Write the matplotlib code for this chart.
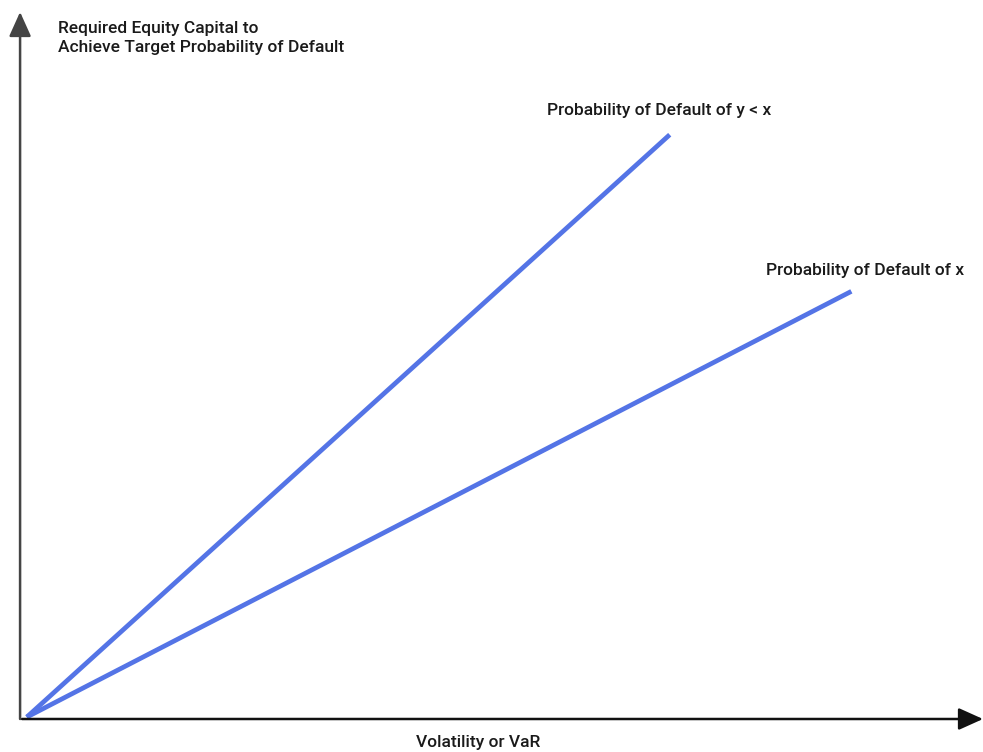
import matplotlib
matplotlib.use("Agg")
import matplotlib.pyplot as plt

# Data (abstract units; both curves start at the origin)
vol = [0.05, 6.74]
capital_low_pd = [0.02, 6.08]     # Probability of Default of y < x
vol2 = [0.05, 8.63]
capital_pd_x = [0.02, 4.45]       # Probability of Default of x
labels = ["Probability of Default of y < x", "Probability of Default of x"]
ylabel_text = "Required Equity Capital to\nAchieve Target Probability of Default"
xlabel_text = "Volatility or VaR"

FONT = ["Roboto", "DejaVu Sans"]
plt.rcParams["font.family"] = FONT

fig = plt.figure(figsize=(9.83, 7.52), dpi=100)
W, H = 983, 752
ox, oy = 22, 719
ax = fig.add_axes([ox / W, (H - oy) / H, (W - ox) / W, (oy - 12) / H])
ax.set_xlim(0, (W - ox) / 96.1)
ax.set_ylim(0, (oy - 12) / 96.1)
ax.axis("off")

blue = "#5474e6"
ax.plot(vol, capital_low_pd, color=blue, lw=3.4, solid_capstyle="butt")
ax.plot(vol2, capital_pd_x, color=blue, lw=3.4, solid_capstyle="butt")

# axes with arrows
ax.annotate("", xy=(1.0, 0.0), xytext=(0.0, 0.0), xycoords="axes fraction",
            arrowprops=dict(arrowstyle="-|>,head_length=1.0,head_width=0.45",
                            color="#111111", lw=1.8, shrinkA=0, shrinkB=0,
                            mutation_scale=15), annotation_clip=False)
ax.annotate("", xy=(-0.002, 1.0), xytext=(-0.002, 0.0), xycoords="axes fraction",
            arrowprops=dict(arrowstyle="-|>,head_length=1.0,head_width=0.45",
                            color="#444444", lw=1.8, shrinkA=0, shrinkB=0,
                            mutation_scale=15), annotation_clip=False)

fs = 12.5
tc = "#1a1a1a"
fw = "medium"
fig.text(58 / W, 1 - 38 / H, ylabel_text, fontsize=fs, color=tc, ha="left",
         va="center", linespacing=1.35, fontweight=fw)
fig.text(547 / W, 1 - 110 / H, labels[0], fontsize=fs, color=tc, ha="left", va="center", fontweight=fw)
fig.text(766 / W, 1 - 270 / H, labels[1], fontsize=fs, color=tc, ha="left", va="center", fontweight=fw)
fig.text(416 / W, 1 - 742 / H, xlabel_text, fontsize=fs, color=tc, ha="left", va="center", fontweight=fw)

fig.savefig("out.png", dpi=100)
